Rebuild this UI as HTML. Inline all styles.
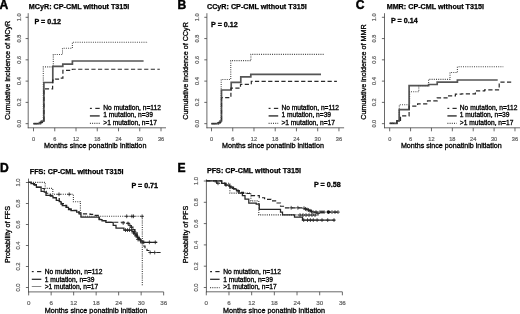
<!DOCTYPE html>
<html><head><meta charset="utf-8"><style>html,body{margin:0;padding:0;background:#fff;}svg{display:block;filter:blur(0.4px);}</style></head><body>
<svg width="520" height="314" viewBox="0 0 520 314" font-family='"Liberation Sans", sans-serif'>
<rect width="520" height="314" fill="#fff"/>
<text x="-0.6" y="8.7" font-size="12.1" font-weight="bold" text-anchor="start" fill="#000" stroke="#000" stroke-width="0.45">A</text>
<text x="28.849999999999998" y="8.7" font-size="7.2" font-weight="bold" text-anchor="start" fill="#000" stroke="#000" stroke-width="0.25">MCyR: CP-CML without T315I</text>
<text x="34.4" y="23.6" font-size="7.15" font-weight="bold" text-anchor="start" fill="#000" stroke="#000" stroke-width="0.3">P = 0.12</text>
<line x1="28.20" y1="13.20" x2="28.20" y2="128.20" stroke="#444" stroke-width="0.8"/>
<line x1="27.80" y1="127.80" x2="166.00" y2="127.80" stroke="#444" stroke-width="0.8"/>
<line x1="25.60" y1="123.65" x2="28.20" y2="123.65" stroke="#444" stroke-width="0.8"/>
<text transform="translate(21.3,123.65) rotate(-90)" font-size="5.6" font-weight="normal" text-anchor="middle" fill="#606060" stroke="#606060" stroke-width="0.2">0.0</text>
<line x1="25.60" y1="102.38" x2="28.20" y2="102.38" stroke="#444" stroke-width="0.8"/>
<text transform="translate(21.3,102.38) rotate(-90)" font-size="5.6" font-weight="normal" text-anchor="middle" fill="#606060" stroke="#606060" stroke-width="0.2">0.2</text>
<line x1="25.60" y1="81.11" x2="28.20" y2="81.11" stroke="#444" stroke-width="0.8"/>
<text transform="translate(21.3,81.11) rotate(-90)" font-size="5.6" font-weight="normal" text-anchor="middle" fill="#606060" stroke="#606060" stroke-width="0.2">0.4</text>
<line x1="25.60" y1="59.84" x2="28.20" y2="59.84" stroke="#444" stroke-width="0.8"/>
<text transform="translate(21.3,59.84) rotate(-90)" font-size="5.6" font-weight="normal" text-anchor="middle" fill="#606060" stroke="#606060" stroke-width="0.2">0.6</text>
<line x1="25.60" y1="38.57" x2="28.20" y2="38.57" stroke="#444" stroke-width="0.8"/>
<text transform="translate(21.3,38.56999999999999) rotate(-90)" font-size="5.6" font-weight="normal" text-anchor="middle" fill="#606060" stroke="#606060" stroke-width="0.2">0.8</text>
<line x1="25.60" y1="17.30" x2="28.20" y2="17.30" stroke="#444" stroke-width="0.8"/>
<text transform="translate(21.3,17.299999999999997) rotate(-90)" font-size="5.6" font-weight="normal" text-anchor="middle" fill="#606060" stroke="#606060" stroke-width="0.2">1.0</text>
<line x1="33.50" y1="127.80" x2="33.50" y2="131.30" stroke="#444" stroke-width="0.8"/>
<text x="33.5" y="140.6" font-size="5.6" font-weight="normal" text-anchor="middle" fill="#606060" stroke="#606060" stroke-width="0.2">0</text>
<line x1="54.75" y1="127.80" x2="54.75" y2="131.30" stroke="#444" stroke-width="0.8"/>
<text x="54.751999999999995" y="140.6" font-size="5.6" font-weight="normal" text-anchor="middle" fill="#606060" stroke="#606060" stroke-width="0.2">6</text>
<line x1="76.00" y1="127.80" x2="76.00" y2="131.30" stroke="#444" stroke-width="0.8"/>
<text x="76.00399999999999" y="140.6" font-size="5.6" font-weight="normal" text-anchor="middle" fill="#606060" stroke="#606060" stroke-width="0.2">12</text>
<line x1="97.26" y1="127.80" x2="97.26" y2="131.30" stroke="#444" stroke-width="0.8"/>
<text x="97.256" y="140.6" font-size="5.6" font-weight="normal" text-anchor="middle" fill="#606060" stroke="#606060" stroke-width="0.2">18</text>
<line x1="118.51" y1="127.80" x2="118.51" y2="131.30" stroke="#444" stroke-width="0.8"/>
<text x="118.508" y="140.6" font-size="5.6" font-weight="normal" text-anchor="middle" fill="#606060" stroke="#606060" stroke-width="0.2">24</text>
<line x1="139.76" y1="127.80" x2="139.76" y2="131.30" stroke="#444" stroke-width="0.8"/>
<text x="139.76" y="140.6" font-size="5.6" font-weight="normal" text-anchor="middle" fill="#606060" stroke="#606060" stroke-width="0.2">30</text>
<line x1="161.01" y1="127.80" x2="161.01" y2="131.30" stroke="#444" stroke-width="0.8"/>
<text x="161.012" y="140.6" font-size="5.6" font-weight="normal" text-anchor="middle" fill="#606060" stroke="#606060" stroke-width="0.2">36</text>
<text x="44.0" y="148.3" font-size="7.2" font-weight="normal" text-anchor="start" fill="#000" textLength="102.4" lengthAdjust="spacingAndGlyphs" stroke="#000" stroke-width="0.3">Months since ponatinib initiation</text>
<text transform="translate(10.2,70.3) rotate(-90)" font-size="7.2" font-weight="normal" text-anchor="middle" fill="#000" textLength="99.2" lengthAdjust="spacingAndGlyphs" stroke="#000" stroke-width="0.3">Cumulative incidence of MCyR</text>
<line x1="89.90" y1="108.40" x2="91.86" y2="108.40" stroke="#2a2a2a" stroke-width="1.2"/>
<line x1="95.29" y1="108.40" x2="99.70" y2="108.40" stroke="#2a2a2a" stroke-width="1.2"/>
<line x1="89.90" y1="115.90" x2="99.70" y2="115.90" stroke="#555" stroke-width="1.7"/>
<line x1="89.90" y1="123.40" x2="99.70" y2="123.40" stroke="#4a4a4a" stroke-width="1.1" stroke-dasharray="1 1.2"/>
<text x="103.3" y="109.6" font-size="6.65" font-weight="normal" text-anchor="start" fill="#000" stroke="#000" stroke-width="0.3">No mutation, n=112</text>
<text x="103.3" y="117.1" font-size="6.65" font-weight="normal" text-anchor="start" fill="#000" stroke="#000" stroke-width="0.3">1 mutation, n=39</text>
<text x="103.3" y="124.6" font-size="6.65" font-weight="normal" text-anchor="start" fill="#000" stroke="#000" stroke-width="0.3">&gt;1 mutation, n=17</text>
<path d="M33.50,123.60 L39.50,123.60 L39.50,122.60 L41.50,122.60 L41.50,121.20 L43.90,121.20 L43.90,82.50 L52.80,82.50 L52.80,66.40 L62.80,66.40 L62.80,64.20 L72.40,64.20 L72.40,61.00 L143.60,61.00" fill="none" stroke="#555" stroke-width="1.7" stroke-linejoin="miter" stroke-linecap="butt"/>
<path d="M33.50,123.60 L40.50,123.60 L40.50,122.30 L42.50,122.30 L42.50,120.50 L43.90,120.50 L43.90,88.80 L52.60,88.80 L52.60,80.20 L55.50,80.20 L55.50,79.20 L58.50,79.20 L58.50,78.20 L62.90,78.20 L62.90,70.30 L72.30,70.30 L72.30,69.25 L159.80,69.25" fill="none" stroke="#2a2a2a" stroke-width="1.2" stroke-dasharray="4.2 2.4" stroke-linejoin="miter" stroke-linecap="butt"/>
<path d="M33.50,123.60 L41.00,123.60 L41.00,121.50 L43.30,121.50 L43.30,66.90 L53.30,66.90 L53.30,54.50 L62.50,54.50 L62.50,48.20 L72.40,48.20 L72.40,42.20 L148.00,42.20" fill="none" stroke="#4a4a4a" stroke-width="1.1" stroke-dasharray="1 1.2" stroke-linejoin="miter" stroke-linecap="butt"/>
<text x="177.4" y="8.7" font-size="12.1" font-weight="bold" text-anchor="start" fill="#000" stroke="#000" stroke-width="0.45">B</text>
<text x="206.95000000000002" y="8.7" font-size="7.2" font-weight="bold" text-anchor="start" fill="#000" stroke="#000" stroke-width="0.25">CCyR: CP-CML without T315I</text>
<text x="211.1" y="27.0" font-size="7.15" font-weight="bold" text-anchor="start" fill="#000" stroke="#000" stroke-width="0.3">P = 0.12</text>
<line x1="206.90" y1="13.20" x2="206.90" y2="128.20" stroke="#444" stroke-width="0.8"/>
<line x1="206.50" y1="127.80" x2="344.10" y2="127.80" stroke="#444" stroke-width="0.8"/>
<line x1="204.30" y1="123.65" x2="206.90" y2="123.65" stroke="#444" stroke-width="0.8"/>
<text transform="translate(199.1,123.65) rotate(-90)" font-size="5.6" font-weight="normal" text-anchor="middle" fill="#606060" stroke="#606060" stroke-width="0.2">0.0</text>
<line x1="204.30" y1="102.38" x2="206.90" y2="102.38" stroke="#444" stroke-width="0.8"/>
<text transform="translate(199.1,102.38) rotate(-90)" font-size="5.6" font-weight="normal" text-anchor="middle" fill="#606060" stroke="#606060" stroke-width="0.2">0.2</text>
<line x1="204.30" y1="81.11" x2="206.90" y2="81.11" stroke="#444" stroke-width="0.8"/>
<text transform="translate(199.1,81.11) rotate(-90)" font-size="5.6" font-weight="normal" text-anchor="middle" fill="#606060" stroke="#606060" stroke-width="0.2">0.4</text>
<line x1="204.30" y1="59.84" x2="206.90" y2="59.84" stroke="#444" stroke-width="0.8"/>
<text transform="translate(199.1,59.84) rotate(-90)" font-size="5.6" font-weight="normal" text-anchor="middle" fill="#606060" stroke="#606060" stroke-width="0.2">0.6</text>
<line x1="204.30" y1="38.57" x2="206.90" y2="38.57" stroke="#444" stroke-width="0.8"/>
<text transform="translate(199.1,38.56999999999999) rotate(-90)" font-size="5.6" font-weight="normal" text-anchor="middle" fill="#606060" stroke="#606060" stroke-width="0.2">0.8</text>
<line x1="204.30" y1="17.30" x2="206.90" y2="17.30" stroke="#444" stroke-width="0.8"/>
<text transform="translate(199.1,17.299999999999997) rotate(-90)" font-size="5.6" font-weight="normal" text-anchor="middle" fill="#606060" stroke="#606060" stroke-width="0.2">1.0</text>
<line x1="211.50" y1="127.80" x2="211.50" y2="131.30" stroke="#444" stroke-width="0.8"/>
<text x="211.5" y="140.6" font-size="5.6" font-weight="normal" text-anchor="middle" fill="#606060" stroke="#606060" stroke-width="0.2">0</text>
<line x1="232.74" y1="127.80" x2="232.74" y2="131.30" stroke="#444" stroke-width="0.8"/>
<text x="232.74" y="140.6" font-size="5.6" font-weight="normal" text-anchor="middle" fill="#606060" stroke="#606060" stroke-width="0.2">6</text>
<line x1="253.98" y1="127.80" x2="253.98" y2="131.30" stroke="#444" stroke-width="0.8"/>
<text x="253.98000000000002" y="140.6" font-size="5.6" font-weight="normal" text-anchor="middle" fill="#606060" stroke="#606060" stroke-width="0.2">12</text>
<line x1="275.22" y1="127.80" x2="275.22" y2="131.30" stroke="#444" stroke-width="0.8"/>
<text x="275.22" y="140.6" font-size="5.6" font-weight="normal" text-anchor="middle" fill="#606060" stroke="#606060" stroke-width="0.2">18</text>
<line x1="296.46" y1="127.80" x2="296.46" y2="131.30" stroke="#444" stroke-width="0.8"/>
<text x="296.46000000000004" y="140.6" font-size="5.6" font-weight="normal" text-anchor="middle" fill="#606060" stroke="#606060" stroke-width="0.2">24</text>
<line x1="317.70" y1="127.80" x2="317.70" y2="131.30" stroke="#444" stroke-width="0.8"/>
<text x="317.7" y="140.6" font-size="5.6" font-weight="normal" text-anchor="middle" fill="#606060" stroke="#606060" stroke-width="0.2">30</text>
<line x1="338.94" y1="127.80" x2="338.94" y2="131.30" stroke="#444" stroke-width="0.8"/>
<text x="338.94" y="140.6" font-size="5.6" font-weight="normal" text-anchor="middle" fill="#606060" stroke="#606060" stroke-width="0.2">36</text>
<text x="221.9" y="148.3" font-size="7.2" font-weight="normal" text-anchor="start" fill="#000" textLength="102.0" lengthAdjust="spacingAndGlyphs" stroke="#000" stroke-width="0.3">Months since ponatinib initiation</text>
<text transform="translate(188.2,70.9) rotate(-90)" font-size="7.2" font-weight="normal" text-anchor="middle" fill="#000" stroke="#000" stroke-width="0.3">Cumulative incidence of CCyR</text>
<line x1="268.60" y1="108.40" x2="270.52" y2="108.40" stroke="#2a2a2a" stroke-width="1.2"/>
<line x1="273.88" y1="108.40" x2="278.20" y2="108.40" stroke="#2a2a2a" stroke-width="1.2"/>
<line x1="268.60" y1="115.90" x2="278.20" y2="115.90" stroke="#555" stroke-width="1.7"/>
<line x1="268.60" y1="123.40" x2="278.20" y2="123.40" stroke="#4a4a4a" stroke-width="1.1" stroke-dasharray="1 1.2"/>
<text x="281.4" y="109.6" font-size="6.65" font-weight="normal" text-anchor="start" fill="#000" stroke="#000" stroke-width="0.3">No mutation, n=112</text>
<text x="281.4" y="117.1" font-size="6.65" font-weight="normal" text-anchor="start" fill="#000" stroke="#000" stroke-width="0.3">1 mutation, n=39</text>
<text x="281.4" y="124.6" font-size="6.65" font-weight="normal" text-anchor="start" fill="#000" stroke="#000" stroke-width="0.3">&gt;1 mutation, n=17</text>
<path d="M211.45,123.60 L218.00,123.60 L218.00,122.80 L220.00,122.80 L220.00,121.00 L221.50,121.00 L221.50,90.00 L231.20,90.00 L231.20,82.40 L240.80,82.40 L240.80,76.90 L250.80,76.90 L250.80,74.30 L321.00,74.30" fill="none" stroke="#555" stroke-width="1.7" stroke-linejoin="miter" stroke-linecap="butt"/>
<path d="M211.45,123.60 L218.50,123.60 L218.50,122.50 L220.50,122.50 L220.50,120.80 L221.50,120.80 L221.50,97.70 L230.90,97.70 L230.90,88.10 L240.50,88.10 L240.50,84.30 L251.30,84.30 L251.30,81.30 L336.90,81.30" fill="none" stroke="#2a2a2a" stroke-width="1.2" stroke-dasharray="4.2 2.4" stroke-linejoin="miter" stroke-linecap="butt"/>
<path d="M211.45,123.60 L219.00,123.60 L219.00,122.00 L221.20,122.00 L221.20,79.50 L230.75,79.50 L230.75,60.60 L250.90,60.60 L250.90,54.40 L323.80,54.40" fill="none" stroke="#4a4a4a" stroke-width="1.1" stroke-dasharray="1 1.2" stroke-linejoin="miter" stroke-linecap="butt"/>
<text x="355.7" y="8.7" font-size="12.1" font-weight="bold" text-anchor="start" fill="#000" stroke="#000" stroke-width="0.45">C</text>
<text x="386.65" y="8.7" font-size="7.2" font-weight="bold" text-anchor="start" fill="#000" stroke="#000" stroke-width="0.25">MMR: CP-CML without T315I</text>
<text x="391.0" y="22.8" font-size="7.15" font-weight="bold" text-anchor="start" fill="#000" stroke="#000" stroke-width="0.3">P = 0.14</text>
<line x1="384.50" y1="13.20" x2="384.50" y2="128.20" stroke="#444" stroke-width="0.8"/>
<line x1="384.10" y1="127.80" x2="520.50" y2="127.80" stroke="#444" stroke-width="0.8"/>
<line x1="381.90" y1="123.65" x2="384.50" y2="123.65" stroke="#444" stroke-width="0.8"/>
<text transform="translate(376.2,123.65) rotate(-90)" font-size="5.6" font-weight="normal" text-anchor="middle" fill="#606060" stroke="#606060" stroke-width="0.2">0.0</text>
<line x1="381.90" y1="102.38" x2="384.50" y2="102.38" stroke="#444" stroke-width="0.8"/>
<text transform="translate(376.2,102.38) rotate(-90)" font-size="5.6" font-weight="normal" text-anchor="middle" fill="#606060" stroke="#606060" stroke-width="0.2">0.2</text>
<line x1="381.90" y1="81.11" x2="384.50" y2="81.11" stroke="#444" stroke-width="0.8"/>
<text transform="translate(376.2,81.11) rotate(-90)" font-size="5.6" font-weight="normal" text-anchor="middle" fill="#606060" stroke="#606060" stroke-width="0.2">0.4</text>
<line x1="381.90" y1="59.84" x2="384.50" y2="59.84" stroke="#444" stroke-width="0.8"/>
<text transform="translate(376.2,59.84) rotate(-90)" font-size="5.6" font-weight="normal" text-anchor="middle" fill="#606060" stroke="#606060" stroke-width="0.2">0.6</text>
<line x1="381.90" y1="38.57" x2="384.50" y2="38.57" stroke="#444" stroke-width="0.8"/>
<text transform="translate(376.2,38.56999999999999) rotate(-90)" font-size="5.6" font-weight="normal" text-anchor="middle" fill="#606060" stroke="#606060" stroke-width="0.2">0.8</text>
<line x1="381.90" y1="17.30" x2="384.50" y2="17.30" stroke="#444" stroke-width="0.8"/>
<text transform="translate(376.2,17.299999999999997) rotate(-90)" font-size="5.6" font-weight="normal" text-anchor="middle" fill="#606060" stroke="#606060" stroke-width="0.2">1.0</text>
<line x1="389.70" y1="127.80" x2="389.70" y2="131.30" stroke="#444" stroke-width="0.8"/>
<text x="389.7" y="140.6" font-size="5.6" font-weight="normal" text-anchor="middle" fill="#606060" stroke="#606060" stroke-width="0.2">0</text>
<line x1="410.58" y1="127.80" x2="410.58" y2="131.30" stroke="#444" stroke-width="0.8"/>
<text x="410.58" y="140.6" font-size="5.6" font-weight="normal" text-anchor="middle" fill="#606060" stroke="#606060" stroke-width="0.2">6</text>
<line x1="431.46" y1="127.80" x2="431.46" y2="131.30" stroke="#444" stroke-width="0.8"/>
<text x="431.46" y="140.6" font-size="5.6" font-weight="normal" text-anchor="middle" fill="#606060" stroke="#606060" stroke-width="0.2">12</text>
<line x1="452.34" y1="127.80" x2="452.34" y2="131.30" stroke="#444" stroke-width="0.8"/>
<text x="452.34" y="140.6" font-size="5.6" font-weight="normal" text-anchor="middle" fill="#606060" stroke="#606060" stroke-width="0.2">18</text>
<line x1="473.22" y1="127.80" x2="473.22" y2="131.30" stroke="#444" stroke-width="0.8"/>
<text x="473.21999999999997" y="140.6" font-size="5.6" font-weight="normal" text-anchor="middle" fill="#606060" stroke="#606060" stroke-width="0.2">24</text>
<line x1="494.10" y1="127.80" x2="494.10" y2="131.30" stroke="#444" stroke-width="0.8"/>
<text x="494.1" y="140.6" font-size="5.6" font-weight="normal" text-anchor="middle" fill="#606060" stroke="#606060" stroke-width="0.2">30</text>
<line x1="514.98" y1="127.80" x2="514.98" y2="131.30" stroke="#444" stroke-width="0.8"/>
<text x="514.98" y="140.6" font-size="5.6" font-weight="normal" text-anchor="middle" fill="#606060" stroke="#606060" stroke-width="0.2">36</text>
<text x="400.9" y="148.3" font-size="7.2" font-weight="normal" text-anchor="start" fill="#000" textLength="100.9" lengthAdjust="spacingAndGlyphs" stroke="#000" stroke-width="0.3">Months since ponatinib initiation</text>
<text transform="translate(366.0,72.0) rotate(-90)" font-size="7.2" font-weight="normal" text-anchor="middle" fill="#000" stroke="#000" stroke-width="0.3">Cumulative incidence of MMR</text>
<line x1="447.40" y1="108.40" x2="449.26" y2="108.40" stroke="#2a2a2a" stroke-width="1.2"/>
<line x1="452.51" y1="108.40" x2="456.70" y2="108.40" stroke="#2a2a2a" stroke-width="1.2"/>
<line x1="447.40" y1="115.90" x2="456.70" y2="115.90" stroke="#555" stroke-width="1.7"/>
<line x1="447.40" y1="123.40" x2="456.70" y2="123.40" stroke="#4a4a4a" stroke-width="1.1" stroke-dasharray="1 1.2"/>
<text x="459.8" y="109.6" font-size="6.65" font-weight="normal" text-anchor="start" fill="#000" stroke="#000" stroke-width="0.3">No mutation, n=112</text>
<text x="459.8" y="117.1" font-size="6.65" font-weight="normal" text-anchor="start" fill="#000" stroke="#000" stroke-width="0.3">1 mutation, n=39</text>
<text x="459.8" y="124.6" font-size="6.65" font-weight="normal" text-anchor="start" fill="#000" stroke="#000" stroke-width="0.3">&gt;1 mutation, n=17</text>
<path d="M389.70,123.30 L396.90,123.30 L396.90,120.90 L399.20,120.90 L399.20,109.60 L409.10,109.60 L409.10,85.70 L428.60,85.70 L428.60,84.50 L437.20,84.50 L437.20,82.20 L457.40,82.20 L457.40,80.00 L497.70,80.00" fill="none" stroke="#555" stroke-width="1.7" stroke-linejoin="miter" stroke-linecap="butt"/>
<path d="M389.70,123.30 L396.90,123.30 L396.90,120.90 L400.50,120.90 L400.50,115.90 L409.10,115.90 L409.10,106.20 L417.60,106.20 L417.60,103.90 L427.50,103.90 L427.50,100.90 L437.20,100.90 L437.20,97.90 L447.00,97.90 L447.00,95.80 L455.40,95.80 L455.40,94.20 L461.50,94.20 L461.50,93.80 L475.40,93.80 L475.40,90.80 L484.60,90.80 L484.60,89.90 L499.20,89.90 L499.20,82.20 L512.30,82.20" fill="none" stroke="#2a2a2a" stroke-width="1.2" stroke-dasharray="4.2 2.4" stroke-linejoin="miter" stroke-linecap="butt"/>
<path d="M389.70,123.30 L396.90,123.30 L396.90,120.90 L399.30,120.90 L399.30,104.80 L409.60,104.80 L409.60,91.80 L418.80,91.80 L418.80,85.60 L428.60,85.60 L428.60,79.40 L450.00,79.40 L450.00,72.50 L457.40,72.50 L457.40,66.80 L503.30,66.80" fill="none" stroke="#4a4a4a" stroke-width="1.1" stroke-dasharray="1 1.2" stroke-linejoin="miter" stroke-linecap="butt"/>
<text x="0.0" y="171.7" font-size="12.1" font-weight="bold" text-anchor="start" fill="#000" stroke="#000" stroke-width="0.45">D</text>
<text x="29.75" y="173.6" font-size="7.2" font-weight="bold" text-anchor="start" fill="#000" stroke="#000" stroke-width="0.25">FFS: CP-CML without T315I</text>
<text x="131.4" y="187.9" font-size="7.15" font-weight="bold" text-anchor="start" fill="#000" stroke="#000" stroke-width="0.3">P = 0.71</text>
<line x1="28.50" y1="178.60" x2="28.50" y2="292.30" stroke="#444" stroke-width="0.8"/>
<line x1="28.10" y1="291.90" x2="163.65" y2="291.90" stroke="#444" stroke-width="0.8"/>
<line x1="25.90" y1="287.50" x2="28.50" y2="287.50" stroke="#444" stroke-width="0.8"/>
<text transform="translate(20.0,287.5) rotate(-90)" font-size="5.8" font-weight="normal" text-anchor="middle" fill="#606060" stroke="#606060" stroke-width="0.2">0.0</text>
<line x1="25.90" y1="266.50" x2="28.50" y2="266.50" stroke="#444" stroke-width="0.8"/>
<text transform="translate(20.0,266.5) rotate(-90)" font-size="5.8" font-weight="normal" text-anchor="middle" fill="#606060" stroke="#606060" stroke-width="0.2">0.2</text>
<line x1="25.90" y1="245.50" x2="28.50" y2="245.50" stroke="#444" stroke-width="0.8"/>
<text transform="translate(20.0,245.5) rotate(-90)" font-size="5.8" font-weight="normal" text-anchor="middle" fill="#606060" stroke="#606060" stroke-width="0.2">0.4</text>
<line x1="25.90" y1="224.50" x2="28.50" y2="224.50" stroke="#444" stroke-width="0.8"/>
<text transform="translate(20.0,224.5) rotate(-90)" font-size="5.8" font-weight="normal" text-anchor="middle" fill="#606060" stroke="#606060" stroke-width="0.2">0.6</text>
<line x1="25.90" y1="203.50" x2="28.50" y2="203.50" stroke="#444" stroke-width="0.8"/>
<text transform="translate(20.0,203.5) rotate(-90)" font-size="5.8" font-weight="normal" text-anchor="middle" fill="#606060" stroke="#606060" stroke-width="0.2">0.8</text>
<line x1="25.90" y1="182.50" x2="28.50" y2="182.50" stroke="#444" stroke-width="0.8"/>
<text transform="translate(20.0,182.5) rotate(-90)" font-size="5.8" font-weight="normal" text-anchor="middle" fill="#606060" stroke="#606060" stroke-width="0.2">1.0</text>
<line x1="28.65" y1="291.90" x2="28.65" y2="295.40" stroke="#444" stroke-width="0.8"/>
<text x="28.65" y="304.7" font-size="6.2" font-weight="normal" text-anchor="middle" fill="#606060" stroke="#606060" stroke-width="0.2">0</text>
<line x1="51.15" y1="291.90" x2="51.15" y2="295.40" stroke="#444" stroke-width="0.8"/>
<text x="51.15" y="304.7" font-size="6.2" font-weight="normal" text-anchor="middle" fill="#606060" stroke="#606060" stroke-width="0.2">6</text>
<line x1="73.65" y1="291.90" x2="73.65" y2="295.40" stroke="#444" stroke-width="0.8"/>
<text x="73.65" y="304.7" font-size="6.2" font-weight="normal" text-anchor="middle" fill="#606060" stroke="#606060" stroke-width="0.2">12</text>
<line x1="96.15" y1="291.90" x2="96.15" y2="295.40" stroke="#444" stroke-width="0.8"/>
<text x="96.15" y="304.7" font-size="6.2" font-weight="normal" text-anchor="middle" fill="#606060" stroke="#606060" stroke-width="0.2">18</text>
<line x1="118.65" y1="291.90" x2="118.65" y2="295.40" stroke="#444" stroke-width="0.8"/>
<text x="118.65" y="304.7" font-size="6.2" font-weight="normal" text-anchor="middle" fill="#606060" stroke="#606060" stroke-width="0.2">24</text>
<line x1="141.15" y1="291.90" x2="141.15" y2="295.40" stroke="#444" stroke-width="0.8"/>
<text x="141.15" y="304.7" font-size="6.2" font-weight="normal" text-anchor="middle" fill="#606060" stroke="#606060" stroke-width="0.2">30</text>
<line x1="163.65" y1="291.90" x2="163.65" y2="295.40" stroke="#444" stroke-width="0.8"/>
<text x="163.65" y="304.7" font-size="6.2" font-weight="normal" text-anchor="middle" fill="#606060" stroke="#606060" stroke-width="0.2">36</text>
<text x="44.8" y="312.7" font-size="7.2" font-weight="normal" text-anchor="start" fill="#000" textLength="102.4" lengthAdjust="spacingAndGlyphs" stroke="#000" stroke-width="0.3">Months since ponatinib initiation</text>
<text transform="translate(10.4,234.5) rotate(-90)" font-size="7.2" font-weight="normal" text-anchor="middle" fill="#000" stroke="#000" stroke-width="0.3">Probability of FFS</text>
<line x1="31.80" y1="271.60" x2="33.70" y2="271.60" stroke="#222" stroke-width="1.15"/>
<line x1="37.02" y1="271.60" x2="41.30" y2="271.60" stroke="#222" stroke-width="1.15"/>
<line x1="31.80" y1="279.30" x2="41.30" y2="279.30" stroke="#262626" stroke-width="1.25"/>
<line x1="31.80" y1="286.50" x2="41.30" y2="286.50" stroke="#888" stroke-width="1.0"/>
<text x="44.7" y="273.8" font-size="6.65" font-weight="normal" text-anchor="start" fill="#000" stroke="#000" stroke-width="0.3">No mutation, n=112</text>
<text x="44.7" y="281.5" font-size="6.65" font-weight="normal" text-anchor="start" fill="#000" stroke="#000" stroke-width="0.3">1 mutation, n=39</text>
<text x="44.7" y="289.0" font-size="6.65" font-weight="normal" text-anchor="start" fill="#000" stroke="#000" stroke-width="0.3">&gt;1 mutation, n=17</text>
<path d="M28.50,182.40 L31.50,182.40 L31.50,183.40 L33.50,183.40 L33.50,184.60 L36.40,184.60 L36.40,187.10 L41.10,187.10 L41.10,188.50 L44.30,188.50 L44.30,191.30 L46.20,191.30 L46.20,193.20 L50.30,193.20 L50.30,195.30 L53.00,195.30 L53.00,197.50 L56.30,197.50 L56.30,198.50 L59.30,198.50 L59.30,201.00 L61.50,201.00 L61.50,203.50 L63.40,203.50 L63.40,205.30 L66.70,205.30 L66.70,207.00 L69.00,207.00 L69.00,208.80 L71.20,208.80 L71.20,210.20 L76.60,210.20 L76.60,211.00 L79.00,211.00 L79.00,213.80 L90.00,213.80 L90.00,214.30 L94.50,214.30 L94.50,215.30 L99.20,215.30 L99.20,219.40 L102.00,219.40 L102.00,220.50 L105.90,220.50 L105.90,222.20 L127.10,222.20 L127.10,223.00 L129.00,223.00 L129.00,224.50 L131.00,224.50 L131.00,227.00 L133.00,227.00 L133.00,229.50 L135.00,229.50 L135.00,232.50 L137.00,232.50 L137.00,236.00 L139.00,236.00 L139.00,239.50 L141.00,239.50 L141.00,243.00 L143.00,243.00 L143.00,246.00 L145.00,246.00 L145.00,248.50 L147.00,248.50 L147.00,250.50 L149.60,250.50 L149.60,252.50 L162.00,252.50" fill="none" stroke="#222" stroke-width="1.15" stroke-dasharray="4.2 2.4" stroke-linejoin="miter" stroke-linecap="butt"/>
<path d="M28.50,182.40 L31.00,182.40 L31.00,183.60 L34.50,183.60 L34.50,185.00 L36.40,185.00 L36.40,187.30 L41.10,187.30 L41.10,191.30 L44.30,191.30 L44.30,192.00 L46.00,192.00 L46.00,195.30 L50.30,195.30 L50.30,196.00 L53.00,196.00 L53.00,197.80 L56.30,197.80 L56.30,200.30 L59.30,200.30 L59.30,201.50 L61.00,201.50 L61.00,204.00 L62.30,204.00 L62.30,205.60 L66.00,205.60 L66.00,207.30 L68.50,207.30 L68.50,209.50 L71.00,209.50 L71.00,210.50 L76.60,210.50 L76.60,212.00 L79.00,212.00 L79.00,212.80 L81.00,212.80 L81.00,217.10 L99.20,217.10 L99.20,219.60 L102.00,219.60 L102.00,220.80 L105.90,220.80 L105.90,222.40 L113.20,222.40 L113.20,225.30 L116.00,225.30 L116.00,228.10 L123.90,228.10 L123.90,230.10 L131.90,230.10 L131.90,231.50 L133.50,231.50 L133.50,233.00 L135.00,233.00 L135.00,235.00 L137.00,235.00 L137.00,237.50 L139.00,237.50 L139.00,239.50 L141.00,239.50 L141.00,241.00 L143.00,241.00 L143.00,242.30 L157.20,242.30" fill="none" stroke="#262626" stroke-width="1.25" stroke-linejoin="miter" stroke-linecap="butt"/>
<path d="M28.50,182.40 L45.20,182.40 L45.20,188.40 L52.80,188.40 L52.80,194.30 L73.40,194.30 L73.40,201.80 L80.40,201.80 L80.40,216.30 L142.30,216.30 L142.30,286.60 L142.30,286.60" fill="none" stroke="#3a3a3a" stroke-width="1.1" stroke-dasharray="1 1.2" stroke-linejoin="miter" stroke-linecap="butt"/>
<line x1="57.10" y1="194.30" x2="60.90" y2="194.30" stroke="#222" stroke-width="0.8"/>
<line x1="59.00" y1="192.40" x2="59.00" y2="196.20" stroke="#222" stroke-width="0.8"/>
<line x1="67.30" y1="194.30" x2="71.10" y2="194.30" stroke="#222" stroke-width="0.8"/>
<line x1="69.20" y1="192.40" x2="69.20" y2="196.20" stroke="#222" stroke-width="0.8"/>
<line x1="124.80" y1="216.30" x2="128.60" y2="216.30" stroke="#222" stroke-width="0.8"/>
<line x1="126.70" y1="214.40" x2="126.70" y2="218.20" stroke="#222" stroke-width="0.8"/>
<line x1="130.00" y1="216.30" x2="133.80" y2="216.30" stroke="#222" stroke-width="0.8"/>
<line x1="131.90" y1="214.40" x2="131.90" y2="218.20" stroke="#222" stroke-width="0.8"/>
<line x1="131.60" y1="216.30" x2="135.40" y2="216.30" stroke="#222" stroke-width="0.8"/>
<line x1="133.50" y1="214.40" x2="133.50" y2="218.20" stroke="#222" stroke-width="0.8"/>
<line x1="140.20" y1="216.30" x2="144.00" y2="216.30" stroke="#222" stroke-width="0.8"/>
<line x1="142.10" y1="214.40" x2="142.10" y2="218.20" stroke="#222" stroke-width="0.8"/>
<line x1="121.30" y1="223.00" x2="125.10" y2="223.00" stroke="#222" stroke-width="0.8"/>
<line x1="123.20" y1="221.10" x2="123.20" y2="224.90" stroke="#222" stroke-width="0.8"/>
<line x1="123.60" y1="230.10" x2="127.40" y2="230.10" stroke="#222" stroke-width="0.8"/>
<line x1="125.50" y1="228.20" x2="125.50" y2="232.00" stroke="#222" stroke-width="0.8"/>
<line x1="125.60" y1="230.10" x2="129.40" y2="230.10" stroke="#222" stroke-width="0.8"/>
<line x1="127.50" y1="228.20" x2="127.50" y2="232.00" stroke="#222" stroke-width="0.8"/>
<line x1="127.60" y1="230.10" x2="131.40" y2="230.10" stroke="#222" stroke-width="0.8"/>
<line x1="129.50" y1="228.20" x2="129.50" y2="232.00" stroke="#222" stroke-width="0.8"/>
<line x1="126.10" y1="223.50" x2="129.90" y2="223.50" stroke="#222" stroke-width="0.8"/>
<line x1="128.00" y1="221.60" x2="128.00" y2="225.40" stroke="#222" stroke-width="0.8"/>
<line x1="128.10" y1="225.50" x2="131.90" y2="225.50" stroke="#222" stroke-width="0.8"/>
<line x1="130.00" y1="223.60" x2="130.00" y2="227.40" stroke="#222" stroke-width="0.8"/>
<line x1="129.60" y1="227.50" x2="133.40" y2="227.50" stroke="#222" stroke-width="0.8"/>
<line x1="131.50" y1="225.60" x2="131.50" y2="229.40" stroke="#222" stroke-width="0.8"/>
<line x1="131.10" y1="229.50" x2="134.90" y2="229.50" stroke="#222" stroke-width="0.8"/>
<line x1="133.00" y1="227.60" x2="133.00" y2="231.40" stroke="#222" stroke-width="0.8"/>
<line x1="132.60" y1="231.80" x2="136.40" y2="231.80" stroke="#222" stroke-width="0.8"/>
<line x1="134.50" y1="229.90" x2="134.50" y2="233.70" stroke="#222" stroke-width="0.8"/>
<line x1="134.10" y1="234.00" x2="137.90" y2="234.00" stroke="#222" stroke-width="0.8"/>
<line x1="136.00" y1="232.10" x2="136.00" y2="235.90" stroke="#222" stroke-width="0.8"/>
<line x1="135.60" y1="236.20" x2="139.40" y2="236.20" stroke="#222" stroke-width="0.8"/>
<line x1="137.50" y1="234.30" x2="137.50" y2="238.10" stroke="#222" stroke-width="0.8"/>
<line x1="137.10" y1="238.50" x2="140.90" y2="238.50" stroke="#222" stroke-width="0.8"/>
<line x1="139.00" y1="236.60" x2="139.00" y2="240.40" stroke="#222" stroke-width="0.8"/>
<line x1="138.60" y1="240.80" x2="142.40" y2="240.80" stroke="#222" stroke-width="0.8"/>
<line x1="140.50" y1="238.90" x2="140.50" y2="242.70" stroke="#222" stroke-width="0.8"/>
<line x1="131.60" y1="233.00" x2="135.40" y2="233.00" stroke="#222" stroke-width="0.8"/>
<line x1="133.50" y1="231.10" x2="133.50" y2="234.90" stroke="#222" stroke-width="0.8"/>
<line x1="134.10" y1="236.00" x2="137.90" y2="236.00" stroke="#222" stroke-width="0.8"/>
<line x1="136.00" y1="234.10" x2="136.00" y2="237.90" stroke="#222" stroke-width="0.8"/>
<line x1="136.10" y1="239.50" x2="139.90" y2="239.50" stroke="#222" stroke-width="0.8"/>
<line x1="138.00" y1="237.60" x2="138.00" y2="241.40" stroke="#222" stroke-width="0.8"/>
<line x1="141.90" y1="242.30" x2="145.70" y2="242.30" stroke="#222" stroke-width="0.8"/>
<line x1="143.80" y1="240.40" x2="143.80" y2="244.20" stroke="#222" stroke-width="0.8"/>
<line x1="147.50" y1="242.30" x2="151.30" y2="242.30" stroke="#222" stroke-width="0.8"/>
<line x1="149.40" y1="240.40" x2="149.40" y2="244.20" stroke="#222" stroke-width="0.8"/>
<line x1="153.40" y1="242.30" x2="157.20" y2="242.30" stroke="#222" stroke-width="0.8"/>
<line x1="155.30" y1="240.40" x2="155.30" y2="244.20" stroke="#222" stroke-width="0.8"/>
<line x1="148.30" y1="252.50" x2="152.10" y2="252.50" stroke="#222" stroke-width="0.8"/>
<line x1="150.20" y1="250.60" x2="150.20" y2="254.40" stroke="#222" stroke-width="0.8"/>
<line x1="152.80" y1="252.50" x2="156.60" y2="252.50" stroke="#222" stroke-width="0.8"/>
<line x1="154.70" y1="250.60" x2="154.70" y2="254.40" stroke="#222" stroke-width="0.8"/>
<text x="177.6" y="171.8" font-size="12.1" font-weight="bold" text-anchor="start" fill="#000" stroke="#000" stroke-width="0.45">E</text>
<text x="206.95000000000002" y="173.0" font-size="7.2" font-weight="bold" text-anchor="start" fill="#000" stroke="#000" stroke-width="0.25">PFS: CP-CML without T315I</text>
<text x="314.0" y="187.2" font-size="7.15" font-weight="bold" text-anchor="start" fill="#000" stroke="#000" stroke-width="0.3">P = 0.58</text>
<line x1="206.40" y1="179.30" x2="206.40" y2="292.20" stroke="#444" stroke-width="0.8"/>
<line x1="206.00" y1="291.80" x2="342.30" y2="291.80" stroke="#444" stroke-width="0.8"/>
<line x1="203.80" y1="287.50" x2="206.40" y2="287.50" stroke="#444" stroke-width="0.8"/>
<text transform="translate(197.6,287.5) rotate(-90)" font-size="5.8" font-weight="normal" text-anchor="middle" fill="#606060" stroke="#606060" stroke-width="0.2">0.0</text>
<line x1="203.80" y1="266.20" x2="206.40" y2="266.20" stroke="#444" stroke-width="0.8"/>
<text transform="translate(197.6,266.2) rotate(-90)" font-size="5.8" font-weight="normal" text-anchor="middle" fill="#606060" stroke="#606060" stroke-width="0.2">0.2</text>
<line x1="203.80" y1="244.90" x2="206.40" y2="244.90" stroke="#444" stroke-width="0.8"/>
<text transform="translate(197.6,244.9) rotate(-90)" font-size="5.8" font-weight="normal" text-anchor="middle" fill="#606060" stroke="#606060" stroke-width="0.2">0.4</text>
<line x1="203.80" y1="223.60" x2="206.40" y2="223.60" stroke="#444" stroke-width="0.8"/>
<text transform="translate(197.6,223.6) rotate(-90)" font-size="5.8" font-weight="normal" text-anchor="middle" fill="#606060" stroke="#606060" stroke-width="0.2">0.6</text>
<line x1="203.80" y1="202.30" x2="206.40" y2="202.30" stroke="#444" stroke-width="0.8"/>
<text transform="translate(197.6,202.3) rotate(-90)" font-size="5.8" font-weight="normal" text-anchor="middle" fill="#606060" stroke="#606060" stroke-width="0.2">0.8</text>
<line x1="203.80" y1="181.00" x2="206.40" y2="181.00" stroke="#444" stroke-width="0.8"/>
<text transform="translate(197.6,181.0) rotate(-90)" font-size="5.8" font-weight="normal" text-anchor="middle" fill="#606060" stroke="#606060" stroke-width="0.2">1.0</text>
<line x1="206.30" y1="291.80" x2="206.30" y2="295.30" stroke="#444" stroke-width="0.8"/>
<text x="206.3" y="304.7" font-size="6.2" font-weight="normal" text-anchor="middle" fill="#606060" stroke="#606060" stroke-width="0.2">0</text>
<line x1="228.98" y1="291.80" x2="228.98" y2="295.30" stroke="#444" stroke-width="0.8"/>
<text x="228.98000000000002" y="304.7" font-size="6.2" font-weight="normal" text-anchor="middle" fill="#606060" stroke="#606060" stroke-width="0.2">6</text>
<line x1="251.66" y1="291.80" x2="251.66" y2="295.30" stroke="#444" stroke-width="0.8"/>
<text x="251.66000000000003" y="304.7" font-size="6.2" font-weight="normal" text-anchor="middle" fill="#606060" stroke="#606060" stroke-width="0.2">12</text>
<line x1="274.34" y1="291.80" x2="274.34" y2="295.30" stroke="#444" stroke-width="0.8"/>
<text x="274.34000000000003" y="304.7" font-size="6.2" font-weight="normal" text-anchor="middle" fill="#606060" stroke="#606060" stroke-width="0.2">18</text>
<line x1="297.02" y1="291.80" x2="297.02" y2="295.30" stroke="#444" stroke-width="0.8"/>
<text x="297.02" y="304.7" font-size="6.2" font-weight="normal" text-anchor="middle" fill="#606060" stroke="#606060" stroke-width="0.2">24</text>
<line x1="319.70" y1="291.80" x2="319.70" y2="295.30" stroke="#444" stroke-width="0.8"/>
<text x="319.7" y="304.7" font-size="6.2" font-weight="normal" text-anchor="middle" fill="#606060" stroke="#606060" stroke-width="0.2">30</text>
<line x1="342.38" y1="291.80" x2="342.38" y2="295.30" stroke="#444" stroke-width="0.8"/>
<text x="342.38" y="304.7" font-size="6.2" font-weight="normal" text-anchor="middle" fill="#606060" stroke="#606060" stroke-width="0.2">36</text>
<text x="223.0" y="312.5" font-size="7.2" font-weight="normal" text-anchor="start" fill="#000" textLength="102.0" lengthAdjust="spacingAndGlyphs" stroke="#000" stroke-width="0.3">Months since ponatinib initiation</text>
<text transform="translate(187.6,234.5) rotate(-90)" font-size="7.2" font-weight="normal" text-anchor="middle" fill="#000" stroke="#000" stroke-width="0.3">Probability of PFS</text>
<line x1="210.10" y1="271.60" x2="212.00" y2="271.60" stroke="#222" stroke-width="1.15"/>
<line x1="215.32" y1="271.60" x2="219.60" y2="271.60" stroke="#222" stroke-width="1.15"/>
<line x1="210.10" y1="279.30" x2="219.60" y2="279.30" stroke="#262626" stroke-width="1.25"/>
<line x1="210.10" y1="287.60" x2="219.60" y2="287.60" stroke="#4a4a4a" stroke-width="1.1" stroke-dasharray="1 1.2"/>
<text x="223.2" y="273.8" font-size="6.65" font-weight="normal" text-anchor="start" fill="#000" stroke="#000" stroke-width="0.3">No mutation, n=112</text>
<text x="223.2" y="281.5" font-size="6.65" font-weight="normal" text-anchor="start" fill="#000" stroke="#000" stroke-width="0.3">1 mutation, n=39</text>
<text x="223.2" y="289.0" font-size="6.65" font-weight="normal" text-anchor="start" fill="#000" stroke="#000" stroke-width="0.3">&gt;1 mutation, n=17</text>
<path d="M206.30,180.80 L216.50,180.80 L216.50,183.30 L229.90,183.30 L229.90,193.10 L250.90,193.10 L250.90,200.90 L258.80,200.90 L258.80,214.90 L319.00,214.90" fill="none" stroke="#3a3a3a" stroke-width="1.1" stroke-dasharray="1 1.2" stroke-linejoin="miter" stroke-linecap="butt"/>
<path d="M206.30,180.80 L221.70,180.80 L221.70,183.30 L225.50,183.30 L225.50,185.00 L229.80,185.00 L229.80,187.00 L233.50,187.00 L233.50,189.00 L236.50,189.00 L236.50,190.50 L239.00,190.50 L239.00,193.00 L242.40,193.00 L242.40,195.60 L245.00,195.60 L245.00,199.00 L248.80,199.00 L248.80,203.00 L256.20,203.00 L256.20,204.00 L259.30,204.00 L259.30,209.30 L280.50,209.30 L280.50,212.00 L282.50,212.00 L282.50,214.80 L294.50,214.80 L294.50,217.20 L302.50,217.20 L302.50,220.10 L334.90,220.10" fill="none" stroke="#262626" stroke-width="1.25" stroke-linejoin="miter" stroke-linecap="butt"/>
<path d="M206.30,180.80 L221.70,180.80 L221.70,183.00 L225.00,183.00 L225.00,184.80 L229.00,184.80 L229.00,186.50 L232.50,186.50 L232.50,188.50 L236.50,188.50 L236.50,190.50 L239.20,190.50 L239.20,192.40 L243.50,192.40 L243.50,193.50 L250.90,193.50 L250.90,195.60 L259.30,195.60 L259.30,197.70 L264.60,197.70 L264.60,199.30 L271.00,199.30 L271.00,200.90 L276.30,200.90 L276.30,203.00 L280.50,203.00 L280.50,206.20 L284.70,206.20 L284.70,207.80 L304.60,207.80 L304.60,208.70 L307.00,208.70 L307.00,209.50 L309.00,209.50 L309.00,210.30 L311.00,210.30 L311.00,211.20 L312.70,211.20 L312.70,212.10 L338.30,212.10" fill="none" stroke="#222" stroke-width="1.15" stroke-dasharray="4.2 2.4" stroke-linejoin="miter" stroke-linecap="butt"/>
<line x1="214.60" y1="182.00" x2="218.40" y2="182.00" stroke="#222" stroke-width="0.8"/>
<line x1="216.50" y1="180.10" x2="216.50" y2="183.90" stroke="#222" stroke-width="0.8"/>
<line x1="216.10" y1="183.30" x2="219.90" y2="183.30" stroke="#222" stroke-width="0.8"/>
<line x1="218.00" y1="181.40" x2="218.00" y2="185.20" stroke="#222" stroke-width="0.8"/>
<line x1="224.10" y1="185.00" x2="227.90" y2="185.00" stroke="#222" stroke-width="0.8"/>
<line x1="226.00" y1="183.10" x2="226.00" y2="186.90" stroke="#222" stroke-width="0.8"/>
<line x1="229.10" y1="187.00" x2="232.90" y2="187.00" stroke="#222" stroke-width="0.8"/>
<line x1="231.00" y1="185.10" x2="231.00" y2="188.90" stroke="#222" stroke-width="0.8"/>
<line x1="236.10" y1="191.00" x2="239.90" y2="191.00" stroke="#222" stroke-width="0.8"/>
<line x1="238.00" y1="189.10" x2="238.00" y2="192.90" stroke="#222" stroke-width="0.8"/>
<line x1="289.30" y1="207.80" x2="293.10" y2="207.80" stroke="#222" stroke-width="0.8"/>
<line x1="291.20" y1="205.90" x2="291.20" y2="209.70" stroke="#222" stroke-width="0.8"/>
<line x1="296.00" y1="207.80" x2="299.80" y2="207.80" stroke="#222" stroke-width="0.8"/>
<line x1="297.90" y1="205.90" x2="297.90" y2="209.70" stroke="#222" stroke-width="0.8"/>
<line x1="302.10" y1="208.20" x2="305.90" y2="208.20" stroke="#222" stroke-width="0.8"/>
<line x1="304.00" y1="206.30" x2="304.00" y2="210.10" stroke="#222" stroke-width="0.8"/>
<line x1="298.10" y1="215.10" x2="301.90" y2="215.10" stroke="#222" stroke-width="0.8"/>
<line x1="300.00" y1="213.20" x2="300.00" y2="217.00" stroke="#222" stroke-width="0.8"/>
<line x1="301.10" y1="215.10" x2="304.90" y2="215.10" stroke="#222" stroke-width="0.8"/>
<line x1="303.00" y1="213.20" x2="303.00" y2="217.00" stroke="#222" stroke-width="0.8"/>
<line x1="304.10" y1="215.10" x2="307.90" y2="215.10" stroke="#222" stroke-width="0.8"/>
<line x1="306.00" y1="213.20" x2="306.00" y2="217.00" stroke="#222" stroke-width="0.8"/>
<line x1="307.10" y1="215.10" x2="310.90" y2="215.10" stroke="#222" stroke-width="0.8"/>
<line x1="309.00" y1="213.20" x2="309.00" y2="217.00" stroke="#222" stroke-width="0.8"/>
<line x1="310.10" y1="215.10" x2="313.90" y2="215.10" stroke="#222" stroke-width="0.8"/>
<line x1="312.00" y1="213.20" x2="312.00" y2="217.00" stroke="#222" stroke-width="0.8"/>
<line x1="313.10" y1="215.10" x2="316.90" y2="215.10" stroke="#222" stroke-width="0.8"/>
<line x1="315.00" y1="213.20" x2="315.00" y2="217.00" stroke="#222" stroke-width="0.8"/>
<line x1="316.10" y1="213.50" x2="319.90" y2="213.50" stroke="#222" stroke-width="0.8"/>
<line x1="318.00" y1="211.60" x2="318.00" y2="215.40" stroke="#222" stroke-width="0.8"/>
<line x1="318.10" y1="212.10" x2="321.90" y2="212.10" stroke="#222" stroke-width="0.8"/>
<line x1="320.00" y1="210.20" x2="320.00" y2="214.00" stroke="#222" stroke-width="0.8"/>
<line x1="320.10" y1="212.10" x2="323.90" y2="212.10" stroke="#222" stroke-width="0.8"/>
<line x1="322.00" y1="210.20" x2="322.00" y2="214.00" stroke="#222" stroke-width="0.8"/>
<line x1="322.10" y1="212.10" x2="325.90" y2="212.10" stroke="#222" stroke-width="0.8"/>
<line x1="324.00" y1="210.20" x2="324.00" y2="214.00" stroke="#222" stroke-width="0.8"/>
<line x1="330.10" y1="212.10" x2="333.90" y2="212.10" stroke="#222" stroke-width="0.8"/>
<line x1="332.00" y1="210.20" x2="332.00" y2="214.00" stroke="#222" stroke-width="0.8"/>
<line x1="333.10" y1="212.10" x2="336.90" y2="212.10" stroke="#222" stroke-width="0.8"/>
<line x1="335.00" y1="210.20" x2="335.00" y2="214.00" stroke="#222" stroke-width="0.8"/>
<line x1="336.10" y1="212.10" x2="339.90" y2="212.10" stroke="#222" stroke-width="0.8"/>
<line x1="338.00" y1="210.20" x2="338.00" y2="214.00" stroke="#222" stroke-width="0.8"/>
<line x1="303.60" y1="209.00" x2="307.40" y2="209.00" stroke="#222" stroke-width="0.8"/>
<line x1="305.50" y1="207.10" x2="305.50" y2="210.90" stroke="#222" stroke-width="0.8"/>
<line x1="305.10" y1="209.50" x2="308.90" y2="209.50" stroke="#222" stroke-width="0.8"/>
<line x1="307.00" y1="207.60" x2="307.00" y2="211.40" stroke="#222" stroke-width="0.8"/>
<line x1="306.60" y1="210.00" x2="310.40" y2="210.00" stroke="#222" stroke-width="0.8"/>
<line x1="308.50" y1="208.10" x2="308.50" y2="211.90" stroke="#222" stroke-width="0.8"/>
<line x1="308.10" y1="210.80" x2="311.90" y2="210.80" stroke="#222" stroke-width="0.8"/>
<line x1="310.00" y1="208.90" x2="310.00" y2="212.70" stroke="#222" stroke-width="0.8"/>
<line x1="309.60" y1="211.50" x2="313.40" y2="211.50" stroke="#222" stroke-width="0.8"/>
<line x1="311.50" y1="209.60" x2="311.50" y2="213.40" stroke="#222" stroke-width="0.8"/>
<line x1="311.10" y1="212.10" x2="314.90" y2="212.10" stroke="#222" stroke-width="0.8"/>
<line x1="313.00" y1="210.20" x2="313.00" y2="214.00" stroke="#222" stroke-width="0.8"/>
<line x1="314.10" y1="212.10" x2="317.90" y2="212.10" stroke="#222" stroke-width="0.8"/>
<line x1="316.00" y1="210.20" x2="316.00" y2="214.00" stroke="#222" stroke-width="0.8"/>
<line x1="301.80" y1="220.10" x2="305.60" y2="220.10" stroke="#222" stroke-width="0.8"/>
<line x1="303.70" y1="218.20" x2="303.70" y2="222.00" stroke="#222" stroke-width="0.8"/>
<line x1="305.60" y1="220.10" x2="309.40" y2="220.10" stroke="#222" stroke-width="0.8"/>
<line x1="307.50" y1="218.20" x2="307.50" y2="222.00" stroke="#222" stroke-width="0.8"/>
<line x1="308.50" y1="220.10" x2="312.30" y2="220.10" stroke="#222" stroke-width="0.8"/>
<line x1="310.40" y1="218.20" x2="310.40" y2="222.00" stroke="#222" stroke-width="0.8"/>
<line x1="311.40" y1="220.10" x2="315.20" y2="220.10" stroke="#222" stroke-width="0.8"/>
<line x1="313.30" y1="218.20" x2="313.30" y2="222.00" stroke="#222" stroke-width="0.8"/>
<line x1="315.20" y1="220.10" x2="319.00" y2="220.10" stroke="#222" stroke-width="0.8"/>
<line x1="317.10" y1="218.20" x2="317.10" y2="222.00" stroke="#222" stroke-width="0.8"/>
<line x1="320.10" y1="220.10" x2="323.90" y2="220.10" stroke="#222" stroke-width="0.8"/>
<line x1="322.00" y1="218.20" x2="322.00" y2="222.00" stroke="#222" stroke-width="0.8"/>
<line x1="325.80" y1="220.10" x2="329.60" y2="220.10" stroke="#222" stroke-width="0.8"/>
<line x1="327.70" y1="218.20" x2="327.70" y2="222.00" stroke="#222" stroke-width="0.8"/>
<line x1="332.10" y1="220.10" x2="335.90" y2="220.10" stroke="#222" stroke-width="0.8"/>
<line x1="334.00" y1="218.20" x2="334.00" y2="222.00" stroke="#222" stroke-width="0.8"/>
<circle cx="328.4" cy="212.1" r="1.8" fill="#111"/>
</svg>
</body></html>
